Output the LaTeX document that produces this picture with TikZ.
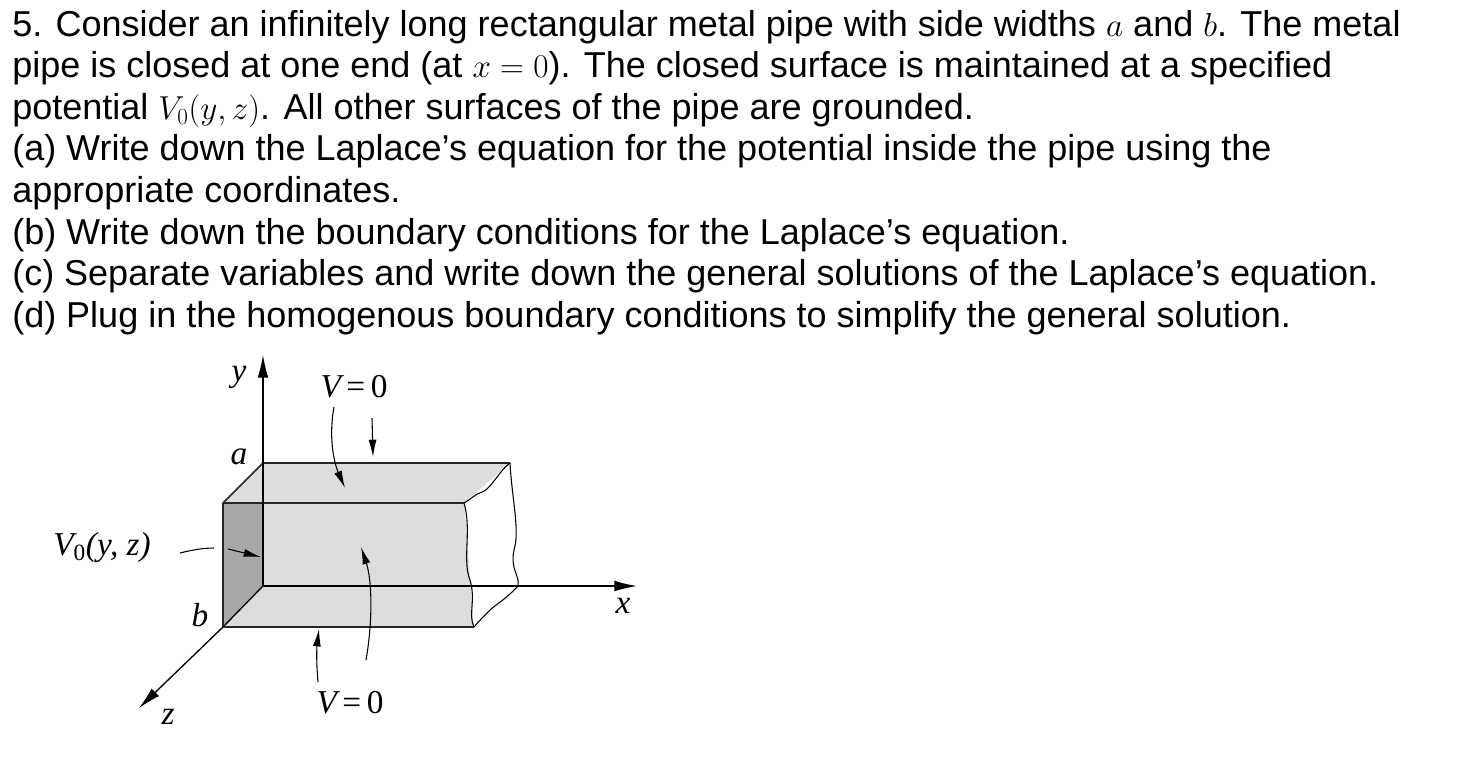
\documentclass[tikz,border=0pt]{standalone}
\usepackage{fontspec}
\setmainfont{Liberation Sans}
\newfontfamily\tms{Liberation Serif}
\usetikzlibrary{arrows.meta}
\begin{document}
\begin{tikzpicture}[x=0.75pt,y=-0.75pt,
  txt/.style={anchor=base west,inner sep=0pt,font=\fontsize{27}{30}\selectfont},
  lbl/.style={inner sep=0pt,font=\tms\itshape\fontsize{25}{28}\selectfont},
  edge/.style={draw=black!85,line width=1.1pt},
  ax/.style={line width=1pt,-{Latex[length=17pt,width=8pt]}},
  pt/.style={line width=0.8pt,-{Latex[length=13pt,width=6pt]}}]
\useasboundingbox (0,0) rectangle (1462,772);
\foreach \t [count=\i] in {
 {5. Consider an infinitely long rectangular metal pipe with side widths $a$ and $b$. The metal},
 {pipe is closed at one end (at $x=0$). The closed surface is maintained at a specified},
 {potential $V_0(y,z)$. All other surfaces of the pipe are grounded.},
 {(a) Write down the Laplace’s equation for the potential inside the pipe using the},
 {appropriate coordinates.},
 {(b) Write down the boundary conditions for the Laplace’s equation.},
 {(c) Separate variables and write down the general solutions of the Laplace’s equation.},
 {(d) Plug in the homogenous boundary conditions to simplify the general solution.}}
 \node[txt] (l\i) at (12,{36+41.6*(\i-1)}) {\t};
% coordinates
\coordinate (O) at (263,586);
\coordinate (BTL) at (263,463);
\coordinate (BTR) at (510,463);
\coordinate (FTL) at (223,503);
\coordinate (FTR) at (464,503);
\coordinate (FBL) at (223,627);
\coordinate (FBR) at (474,627);
\coordinate (BBR) at (518,586);
% faces
\fill[fill={rgb,255:red,220;green,221;blue,223}] (BTL)--(BTR)--(FTR)--(FTL)--cycle;
\fill[fill={rgb,255:red,220;green,221;blue,223}] (FTL)--(FTR) .. controls (468,540) and (470,590) .. (FBR)--(FBL)--cycle;
\fill[fill={rgb,255:red,167;green,168;blue,170}] (FTL)--(263,503)--(O)--(FBL)--cycle;
% edges
\draw[edge] (BTL)--(BTR);
\draw[edge] (FTL)--(FTR);
\draw[edge] (FBL)--(FBR);
\draw[edge] (FTL)--(BTL);
\draw[edge] (FTL)--(FBL);
\draw[line width=0.8pt] (BTR) .. controls (500,470) and (490,490) .. (482,492) .. controls (475,494) and (470,500) .. (FTR);
\draw[line width=0.8pt] (FTR) .. controls (472,530) and (462,560) .. (470,580) .. controls (476,600) and (468,615) .. (FBR);
\draw[line width=0.8pt] (BTR) .. controls (512,500) and (520,530) .. (514,550) .. controls (510,570) and (520,575) .. (BBR);
\draw[line width=0.8pt] (BBR) .. controls (505,600) and (495,605) .. (490,610) .. controls (485,615) and (480,620) .. (FBR);
% axes
\node[inner sep=0pt] (yend) at (263,354) {};
\node[inner sep=0pt] (xend) at (638,586) {};
\node[inner sep=0pt] (zend) at (138,709) {};
\draw[ax] (O)--(yend);
\draw[ax] (O)--(xend);
\draw[line width=1pt] (O)--(FBL);
\draw[ax] (FBL)--(zend);
\node[lbl] (ylab) at (239,377) {y};
\node[lbl] (xlab) at (623,606) {x};
\node[lbl] (zlab) at (168,717) {z};
\node[lbl] (alab) at (239,457) {a};
\node[lbl] (blab) at (200,615) {b};
\node[lbl] (vt) at (354,387) {V\,\textup{=\,0}};
\node[lbl] (vb) at (350,703) {V\,\textup{=\,0}};
\node[lbl] (v0) at (102,548) {V\textsubscript{\upshape 0}(y, z)};
% pointers
\draw[pt] (334,407) .. controls (328,440) and (335,465) .. (345,488);
\draw[pt] (372,418)--(373,457);
\draw[line width=0.8pt] (180,553) .. controls (192,550) and (203,548) .. (214,548);
\draw[pt] (228,549)--(261,557);
\draw[pt] (366,660) .. controls (373,620) and (372,580) .. (361,547);
\draw[pt] (318,682) .. controls (316,660) and (317,645) .. (319,629);
\end{tikzpicture}
\end{document}
